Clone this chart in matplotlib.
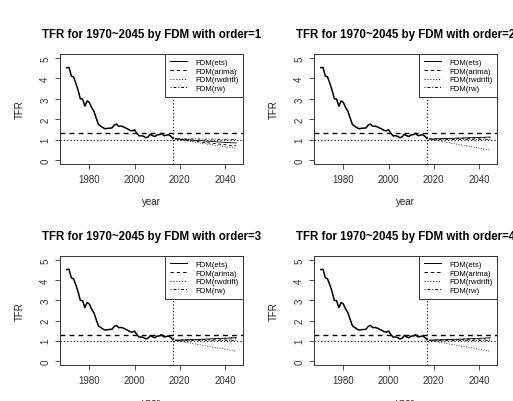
import matplotlib
matplotlib.use("Agg")
import matplotlib.pyplot as plt
from matplotlib.lines import Line2D

plt.rcParams['font.family'] = ['Liberation Sans', 'DejaVu Sans']

# Observed TFR 1970-2017
years_obs = list(range(1970, 2018))
tfr_obs = [4.53, 4.54, 4.12, 4.07, 3.77, 3.43, 3.00, 2.99, 2.64, 2.90,
           2.82, 2.57, 2.39, 2.06, 1.74, 1.66, 1.58, 1.53, 1.55, 1.56,
           1.57, 1.71, 1.76, 1.65, 1.66, 1.63, 1.57, 1.52, 1.45, 1.43,
           1.48, 1.31, 1.18, 1.19, 1.16, 1.09, 1.13, 1.26, 1.19, 1.15,
           1.23, 1.24, 1.30, 1.19, 1.21, 1.24, 1.17, 1.05]

# Forecasts 2018-2045
years_fc = list(range(2018, 2046))

# order = 1
ets_1 = [1.04, 1.03, 1.02, 1.01, 1.00, 0.99, 0.99, 0.98, 0.97, 0.96,
         0.95, 0.95, 0.94, 0.93, 0.92, 0.91, 0.91, 0.90, 0.89, 0.88,
         0.88, 0.87, 0.86, 0.86, 0.85, 0.84, 0.84, 0.83]
arima_1 = [1.04, 1.02, 1.01, 0.99, 0.98, 0.97, 0.95, 0.94, 0.93, 0.91,
           0.90, 0.89, 0.87, 0.86, 0.85, 0.83, 0.82, 0.81, 0.80, 0.78,
           0.77, 0.76, 0.75, 0.74, 0.72, 0.71, 0.70, 0.69]
rwdrift_1 = [1.03, 1.01, 0.99, 0.97, 0.95, 0.94, 0.92, 0.90, 0.88, 0.86,
             0.85, 0.83, 0.81, 0.80, 0.78, 0.76, 0.75, 0.73, 0.71, 0.70,
             0.68, 0.67, 0.65, 0.63, 0.62, 0.60, 0.59, 0.57]
rw_1 = [1.04, 1.04, 1.04, 1.03, 1.03, 1.03, 1.03, 1.03, 1.03, 1.03,
        1.03, 1.02, 1.02, 1.02, 1.02, 1.02, 1.02, 1.02, 1.02, 1.01,
        1.01, 1.01, 1.01, 1.01, 1.01, 1.01, 1.00, 1.00]

# order = 2
ets_2 = [1.03, 1.03, 1.03, 1.04, 1.04, 1.04, 1.05, 1.05, 1.05, 1.06,
         1.06, 1.06, 1.07, 1.07, 1.07, 1.08, 1.08, 1.09, 1.09, 1.09,
         1.10, 1.10, 1.10, 1.11, 1.11, 1.12, 1.12, 1.13]
arima_2 = [1.03, 1.03, 1.03, 1.03, 1.04, 1.04, 1.04, 1.04, 1.04, 1.05,
           1.05, 1.05, 1.05, 1.05, 1.06, 1.06, 1.06, 1.06, 1.06, 1.07,
           1.07, 1.07, 1.07, 1.07, 1.08, 1.08, 1.08, 1.08]
rwdrift_2 = [1.02, 1.00, 0.98, 0.96, 0.94, 0.92, 0.90, 0.88, 0.86, 0.84,
             0.82, 0.80, 0.78, 0.76, 0.74, 0.72, 0.70, 0.68, 0.66, 0.64,
             0.62, 0.60, 0.58, 0.56, 0.54, 0.52, 0.50, 0.48]
rw_2 = [1.04, 1.04, 1.04, 1.04, 1.04, 1.04, 1.04, 1.04, 1.04, 1.04,
        1.04, 1.04, 1.04, 1.04, 1.04, 1.04, 1.04, 1.04, 1.04, 1.04,
        1.04, 1.04, 1.04, 1.04, 1.04, 1.04, 1.04, 1.04]

# order = 3
ets_3 = [1.03, 1.03, 1.04, 1.04, 1.04, 1.05, 1.05, 1.06, 1.06, 1.07,
         1.07, 1.07, 1.08, 1.08, 1.09, 1.09, 1.10, 1.10, 1.11, 1.11,
         1.12, 1.12, 1.13, 1.13, 1.14, 1.15, 1.15, 1.16]
arima_3 = [1.03, 1.03, 1.03, 1.04, 1.04, 1.04, 1.04, 1.05, 1.05, 1.05,
           1.05, 1.06, 1.06, 1.06, 1.06, 1.07, 1.07, 1.07, 1.08, 1.08,
           1.08, 1.08, 1.09, 1.09, 1.09, 1.10, 1.10, 1.10]
rwdrift_3 = [1.02, 1.00, 0.98, 0.96, 0.94, 0.92, 0.90, 0.88, 0.86, 0.84,
             0.82, 0.80, 0.78, 0.76, 0.74, 0.72, 0.70, 0.68, 0.66, 0.64,
             0.62, 0.60, 0.58, 0.56, 0.54, 0.52, 0.50, 0.49]
rw_3 = [1.04, 1.04, 1.04, 1.04, 1.04, 1.04, 1.04, 1.04, 1.04, 1.04,
        1.04, 1.04, 1.04, 1.04, 1.04, 1.04, 1.04, 1.04, 1.04, 1.04,
        1.04, 1.04, 1.04, 1.04, 1.04, 1.04, 1.04, 1.04]

# order = 4
ets_4 = [1.03, 1.03, 1.04, 1.04, 1.04, 1.05, 1.05, 1.06, 1.06, 1.06,
         1.07, 1.07, 1.08, 1.08, 1.08, 1.09, 1.09, 1.10, 1.10, 1.11,
         1.11, 1.12, 1.12, 1.13, 1.13, 1.14, 1.14, 1.15]
arima_4 = [1.03, 1.03, 1.03, 1.04, 1.04, 1.04, 1.04, 1.05, 1.05, 1.05,
           1.05, 1.05, 1.06, 1.06, 1.06, 1.06, 1.07, 1.07, 1.07, 1.07,
           1.08, 1.08, 1.08, 1.08, 1.09, 1.09, 1.09, 1.09]
rwdrift_4 = [1.02, 1.00, 0.98, 0.96, 0.94, 0.92, 0.90, 0.88, 0.86, 0.84,
             0.82, 0.80, 0.78, 0.76, 0.74, 0.72, 0.70, 0.68, 0.66, 0.64,
             0.62, 0.60, 0.58, 0.56, 0.54, 0.52, 0.50, 0.48]
rw_4 = rw_3

forecasts = {
    1: (ets_1, arima_1, rwdrift_1, rw_1),
    2: (ets_2, arima_2, rwdrift_2, rw_2),
    3: (ets_3, arima_3, rwdrift_3, rw_3),
    4: (ets_4, arima_4, rwdrift_4, rw_4),
}

method_labels = ["FDM(ets)", "FDM(arima)", "FDM(rwdrift)", "FDM(rw)"]
x_ticks = [1980, 2000, 2020, 2040]
y_ticks = [0, 1, 2, 3, 4, 5]

W, H = 513, 402
styles = ['-', (0, (3.5, 3)), (0, (1, 2)), (0, (1, 2, 3, 2))]

fig = plt.figure(figsize=(W / 100, H / 100), dpi=100)

# axes boxes in pixels: (left, top, right, bottom)
boxes = {1: (60, 55, 243, 165), 2: (314, 55, 497, 165),
         3: (60, 257, 243, 366), 4: (314, 257, 497, 366)}

for order, (l, t, r, b) in boxes.items():
    ax = fig.add_axes([l / W, 1 - b / H, (r - l) / W, (b - t) / H])
    ax.plot(years_obs, tfr_obs, color='black', lw=1.1)
    for vals, ls in zip(forecasts[order], styles):
        ax.plot(years_fc, vals, color='black', lw=0.6, linestyle=ls)
    ax.axhline(1.3, color='black', lw=1.0, linestyle=(0, (3.5, 3)))
    ax.axhline(1.0, color='black', lw=0.8, linestyle=(0, (1, 2)))
    ax.axvline(2017, color='black', lw=0.8, linestyle=(0, (1, 2)))

    ax.set_xlim(1967, 2048)
    ax.set_ylim(-0.2, 5.2)
    ax.set_xticks(x_ticks)
    ax.set_yticks(y_ticks)
    ax.tick_params(labelsize=7, length=3.5, width=0.6, colors='#333333')
    for lab in ax.get_yticklabels():
        lab.set_rotation(90)
        lab.set_va('center')
    for s in ax.spines.values():
        s.set_linewidth(0.7)
        s.set_color('#333333')

    ax.set_title(f"TFR for 1970~2045 by FDM with order={order}",
                 fontsize=8.3, fontweight='bold', pad=12)
    ax.set_xlabel("year", fontsize=7, labelpad=9, color='#222222')
    ax.set_ylabel("TFR", fontsize=7, labelpad=11, color='#222222')

    handles = [Line2D([], [], color='black', lw=0.7, linestyle=ls) for ls in styles]
    leg = ax.legend(handles, method_labels, loc='upper right', fontsize=5.6,
                    frameon=True, fancybox=False, borderaxespad=0,
                    handlelength=2.2, handletextpad=1.0, labelspacing=0.15,
                    borderpad=0.6)
    leg.get_frame().set_edgecolor('#333333')
    leg.get_frame().set_linewidth(0.7)
    leg.get_frame().set_alpha(1)

fig.savefig("out.png", dpi=100)
